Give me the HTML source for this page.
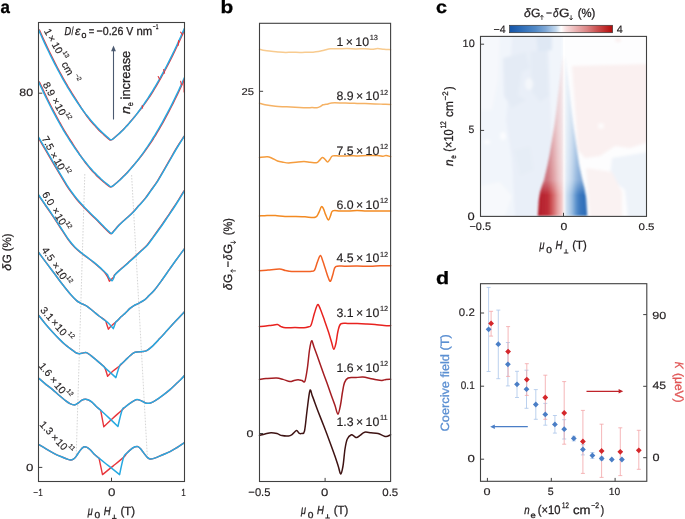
<!DOCTYPE html><html><head><meta charset="utf-8"><style>html,body{margin:0;padding:0;background:#fff;width:685px;height:519px;overflow:hidden}svg text{font-family:"Liberation Sans",sans-serif}</style></head><body><svg width="685" height="519" viewBox="0 0 685 519" style="position:absolute;left:0;top:0;will-change:transform" text-rendering="geometricPrecision" font-family='"Liberation Sans", sans-serif'>
<rect width="685" height="519" fill="#fff"/>
<defs><clipPath id="aclip"><rect x="38.5" y="22.5" width="146" height="459"/></clipPath></defs><g clip-path="url(#aclip)">
<g stroke="#b8b8b8" stroke-width="0.6" stroke-dasharray="1.6,1.4" fill="none"><path d="M84.8,174 L76.2,456"/><path d="M131.6,175 L147.4,458"/></g>
<path d="M39.2,29.5C39.53,30.25 40.53,32.53 41.2,34.02C41.87,35.52 42.53,37 43.2,38.46C43.87,39.93 44.53,41.38 45.2,42.82C45.87,44.26 46.53,45.68 47.2,47.09C47.87,48.51 48.53,49.9 49.2,51.28C49.87,52.67 50.53,54.04 51.2,55.39C51.87,56.75 52.53,58.09 53.2,59.41C53.87,60.74 54.53,62.05 55.2,63.35C55.87,64.65 56.53,65.94 57.2,67.21C57.87,68.48 58.53,69.73 59.2,70.98C59.87,72.22 60.53,73.45 61.2,74.67C61.87,75.88 62.53,77.08 63.2,78.27C63.87,79.46 64.53,80.63 65.2,81.79C65.87,82.95 66.53,84.1 67.2,85.23C67.87,86.36 68.53,87.48 69.2,88.58C69.87,89.69 70.54,90.77 71.2,91.85C71.86,92.93 72.53,93.99 73.19,95.04C73.84,96.09 74.49,97.13 75.13,98.16C75.77,99.18 76.4,100.2 77.03,101.2C77.66,102.2 78.28,103.19 78.9,104.17C79.52,105.15 80.13,106.11 80.75,107.06C81.36,108.01 81.97,108.95 82.58,109.87C83.2,110.79 83.81,111.7 84.42,112.59C85.04,113.49 85.65,114.37 86.27,115.23C86.89,116.09 87.52,116.94 88.15,117.78C88.78,118.61 89.41,119.43 90.05,120.24C90.7,121.04 91.35,121.83 92,122.6C92.66,123.37 93.33,124.12 94,124.87C94.67,125.61 95.33,126.33 96,127.05C96.67,127.76 97.33,128.46 98,129.15C98.67,129.83 99.33,130.5 100,131.16C100.67,131.82 101.33,132.46 102,133.09C102.67,133.72 103.33,134.34 104,134.94C104.67,135.54 105.33,136.13 106,136.71C106.67,137.28 107.33,137.84 108,138.39C108.67,138.93 109.33,139.77 110,139.98C110.67,140.2 111.33,139.99 112,139.67C112.67,139.34 113.33,138.6 114,138.04C114.67,137.49 115.33,136.92 116,136.34C116.67,135.76 117.33,135.16 118,134.55C118.67,133.94 119.33,133.32 120,132.68C120.67,132.04 121.33,131.39 122,130.72C122.67,130.05 123.33,129.37 124,128.68C124.67,127.99 125.33,127.28 126,126.56C126.67,125.84 127.33,125.1 128,124.35C128.67,123.6 129.33,122.84 130.01,122.06C130.69,121.28 131.38,120.48 132.07,119.67C132.76,118.85 133.46,118.03 134.17,117.18C134.87,116.34 135.59,115.48 136.3,114.61C137.02,113.74 137.73,112.85 138.45,111.95C139.17,111.04 139.9,110.13 140.62,109.2C141.34,108.27 142.06,107.32 142.78,106.36C143.5,105.41 144.21,104.43 144.93,103.45C145.64,102.47 146.35,101.47 147.05,100.46C147.76,99.45 148.46,98.43 149.15,97.39C149.84,96.36 150.52,95.31 151.2,94.25C151.87,93.19 152.53,92.12 153.2,91.04C153.87,89.96 154.53,88.86 155.2,87.75C155.87,86.63 156.53,85.51 157.2,84.37C157.87,83.23 158.53,82.07 159.2,80.91C159.87,79.74 160.53,78.56 161.2,77.36C161.87,76.17 162.53,74.96 163.2,73.73C163.87,72.51 164.53,71.27 165.2,70.02C165.87,68.77 166.53,67.5 167.2,66.23C167.87,64.95 168.53,63.65 169.2,62.35C169.87,61.04 170.53,59.72 171.2,58.38C171.87,57.05 172.53,55.7 173.2,54.34C173.87,52.97 174.53,51.6 175.2,50.21C175.87,48.81 176.53,47.41 177.2,45.99C177.87,44.57 178.53,43.14 179.2,41.69C179.87,40.25 180.53,38.79 181.2,37.31C181.87,35.84 182.53,34.35 183.2,32.85C183.87,31.35 184.87,29.06 185.2,28.3" stroke="#e8363c" stroke-width="1.4" fill="none" stroke-linejoin="round"/>
<path d="M38.5,29.5C38.83,30.25 39.83,32.53 40.5,34.02C41.17,35.52 41.83,37 42.5,38.46C43.17,39.93 43.83,41.38 44.5,42.82C45.17,44.26 45.83,45.68 46.5,47.09C47.17,48.51 47.83,49.9 48.5,51.28C49.17,52.67 49.83,54.04 50.5,55.39C51.17,56.75 51.83,58.09 52.5,59.41C53.17,60.74 53.83,62.05 54.5,63.35C55.17,64.65 55.83,65.94 56.5,67.21C57.17,68.48 57.83,69.73 58.5,70.98C59.17,72.22 59.83,73.45 60.5,74.67C61.17,75.88 61.83,77.08 62.5,78.27C63.17,79.46 63.83,80.63 64.5,81.79C65.17,82.95 65.83,84.1 66.5,85.23C67.17,86.36 67.83,87.48 68.5,88.58C69.17,89.69 69.83,90.77 70.5,91.85C71.17,92.93 71.83,93.99 72.5,95.04C73.17,96.09 73.83,97.12 74.5,98.14C75.17,99.16 75.83,100.17 76.5,101.16C77.17,102.15 77.83,103.13 78.5,104.09C79.17,105.06 79.83,106.01 80.5,106.95C81.17,107.88 81.83,108.8 82.5,109.71C83.17,110.62 83.83,111.52 84.5,112.4C85.17,113.28 85.83,114.15 86.5,115C87.17,115.85 87.83,116.69 88.5,117.52C89.17,118.34 89.83,119.15 90.5,119.95C91.17,120.75 91.83,121.53 92.5,122.3C93.17,123.07 93.83,123.82 94.5,124.57C95.17,125.31 95.83,126.03 96.5,126.75C97.17,127.46 97.83,128.16 98.5,128.85C99.17,129.53 99.83,130.2 100.5,130.86C101.17,131.52 101.83,132.16 102.5,132.79C103.17,133.42 103.83,134.04 104.5,134.64C105.17,135.24 105.83,135.83 106.5,136.41C107.17,136.98 107.83,137.54 108.5,138.09C109.17,138.63 109.83,139.47 110.5,139.68C111.17,139.9 111.83,139.69 112.5,139.37C113.17,139.04 113.83,138.3 114.5,137.74C115.17,137.19 115.83,136.62 116.5,136.04C117.17,135.46 117.83,134.86 118.5,134.25C119.17,133.64 119.83,133.02 120.5,132.38C121.17,131.74 121.83,131.09 122.5,130.42C123.17,129.75 123.83,129.07 124.5,128.38C125.17,127.69 125.83,126.98 126.5,126.26C127.17,125.54 127.83,124.8 128.5,124.05C129.17,123.3 129.83,122.54 130.5,121.76C131.17,120.98 131.83,120.19 132.5,119.38C133.17,118.58 133.83,117.76 134.5,116.93C135.17,116.09 135.83,115.25 136.5,114.38C137.17,113.52 137.83,112.65 138.5,111.76C139.17,110.87 139.83,109.97 140.5,109.05C141.17,108.13 141.83,107.2 142.5,106.26C143.17,105.31 143.83,104.35 144.5,103.38C145.17,102.41 145.83,101.42 146.5,100.42C147.17,99.42 147.83,98.41 148.5,97.38C149.17,96.35 149.83,95.31 150.5,94.25C151.17,93.19 151.83,92.12 152.5,91.04C153.17,89.96 153.83,88.86 154.5,87.75C155.17,86.63 155.83,85.51 156.5,84.37C157.17,83.23 157.83,82.07 158.5,80.91C159.17,79.74 159.83,78.56 160.5,77.36C161.17,76.17 161.83,74.96 162.5,73.73C163.17,72.51 163.83,71.27 164.5,70.02C165.17,68.77 165.83,67.5 166.5,66.23C167.17,64.95 167.83,63.65 168.5,62.35C169.17,61.04 169.83,59.72 170.5,58.38C171.17,57.05 171.83,55.7 172.5,54.34C173.17,52.97 173.83,51.6 174.5,50.21C175.17,48.81 175.83,47.41 176.5,45.99C177.17,44.57 177.83,43.14 178.5,41.69C179.17,40.25 179.83,38.79 180.5,37.31C181.17,35.84 181.83,34.35 182.5,32.85C183.17,31.35 184.17,29.06 184.5,28.3" stroke="#27a9e1" stroke-width="1.5" fill="none" stroke-linejoin="round"/>
<path d="M39.2,81.5C39.53,82.23 40.53,84.43 41.2,85.87C41.87,87.32 42.53,88.75 43.2,90.16C43.87,91.58 44.53,92.98 45.2,94.37C45.87,95.76 46.53,97.13 47.2,98.49C47.87,99.85 48.53,101.2 49.2,102.53C49.87,103.87 50.53,105.18 51.2,106.49C51.87,107.8 52.53,109.09 53.2,110.36C53.87,111.64 54.53,112.91 55.2,114.16C55.87,115.41 56.53,116.64 57.2,117.86C57.87,119.09 58.53,120.3 59.2,121.49C59.87,122.68 60.53,123.87 61.2,125.03C61.87,126.2 62.53,127.35 63.2,128.49C63.87,129.63 64.53,130.76 65.2,131.87C65.87,132.98 66.53,134.08 67.2,135.16C67.87,136.25 68.53,137.32 69.2,138.37C69.87,139.43 70.54,140.47 71.2,141.5C71.86,142.53 72.53,143.55 73.19,144.55C73.84,145.55 74.49,146.55 75.13,147.53C75.77,148.51 76.4,149.47 77.03,150.43C77.66,151.39 78.28,152.33 78.9,153.26C79.52,154.19 80.13,155.11 80.75,156.01C81.36,156.91 81.97,157.8 82.58,158.68C83.2,159.56 83.81,160.42 84.42,161.27C85.04,162.12 85.65,162.95 86.27,163.77C86.89,164.59 87.52,165.39 88.15,166.18C88.78,166.97 89.41,167.75 90.05,168.5C90.7,169.26 91.35,170 92,170.73C92.66,171.46 93.33,172.17 94,172.86C94.67,173.56 95.33,174.24 96,174.91C96.67,175.58 97.33,176.24 98,176.88C98.67,177.52 99.33,178.15 100,178.76C100.67,179.38 101.33,179.98 102,180.56C102.67,181.15 103.33,181.72 104,182.28C104.67,182.84 105.33,183.38 106,183.92C106.67,184.45 107.33,184.96 108,185.47C108.67,185.97 109.33,186.75 110,186.94C110.67,187.12 111.33,186.91 112,186.59C112.67,186.26 113.33,185.54 114,185C114.67,184.46 115.33,183.9 116,183.33C116.67,182.76 117.33,182.18 118,181.58C118.67,180.98 119.33,180.37 120,179.75C120.67,179.12 121.33,178.48 122,177.83C122.67,177.18 123.33,176.52 124,175.84C124.67,175.16 125.33,174.46 126,173.76C126.67,173.05 127.33,172.33 128,171.6C128.67,170.86 129.33,170.12 130.01,169.35C130.69,168.59 131.38,167.81 132.07,167.02C132.76,166.22 133.46,165.41 134.17,164.58C134.87,163.76 135.59,162.92 136.3,162.06C137.02,161.21 137.73,160.34 138.45,159.46C139.17,158.57 139.9,157.68 140.62,156.77C141.34,155.85 142.06,154.93 142.78,153.99C143.5,153.06 144.21,152.1 144.93,151.14C145.64,150.18 146.35,149.2 147.05,148.21C147.76,147.22 148.46,146.22 149.15,145.21C149.84,144.2 150.52,143.17 151.2,142.14C151.87,141.1 152.53,140.06 153.2,139C153.87,137.94 154.53,136.86 155.2,135.77C155.87,134.68 156.53,133.58 157.2,132.47C157.87,131.35 158.53,130.22 159.2,129.08C159.87,127.94 160.53,126.78 161.2,125.61C161.87,124.44 162.53,123.26 163.2,122.06C163.87,120.86 164.53,119.65 165.2,118.43C165.87,117.2 166.53,115.96 167.2,114.71C167.87,113.46 168.53,112.2 169.2,110.92C169.87,109.64 170.53,108.34 171.2,107.04C171.87,105.73 172.53,104.41 173.2,103.08C173.87,101.74 174.53,100.4 175.2,99.04C175.87,97.68 176.53,96.3 177.2,94.91C177.87,93.52 178.53,92.12 179.2,90.71C179.87,89.29 180.53,87.86 181.2,86.42C181.87,84.98 182.53,83.52 183.2,82.05C183.87,80.58 184.87,78.34 185.2,77.6" stroke="#e8363c" stroke-width="1.4" fill="none" stroke-linejoin="round"/>
<path d="M38.5,81.5C38.83,82.23 39.83,84.43 40.5,85.87C41.17,87.32 41.83,88.75 42.5,90.16C43.17,91.58 43.83,92.98 44.5,94.37C45.17,95.76 45.83,97.13 46.5,98.49C47.17,99.85 47.83,101.2 48.5,102.53C49.17,103.87 49.83,105.18 50.5,106.49C51.17,107.8 51.83,109.09 52.5,110.36C53.17,111.64 53.83,112.91 54.5,114.16C55.17,115.41 55.83,116.64 56.5,117.86C57.17,119.09 57.83,120.3 58.5,121.49C59.17,122.68 59.83,123.87 60.5,125.03C61.17,126.2 61.83,127.35 62.5,128.49C63.17,129.63 63.83,130.76 64.5,131.87C65.17,132.98 65.83,134.08 66.5,135.16C67.17,136.25 67.83,137.32 68.5,138.37C69.17,139.43 69.83,140.47 70.5,141.5C71.17,142.53 71.83,143.55 72.5,144.55C73.17,145.55 73.83,146.54 74.5,147.51C75.17,148.48 75.83,149.44 76.5,150.39C77.17,151.33 77.83,152.27 78.5,153.18C79.17,154.1 79.83,155.01 80.5,155.9C81.17,156.79 81.83,157.66 82.5,158.53C83.17,159.39 83.83,160.24 84.5,161.07C85.17,161.91 85.83,162.73 86.5,163.54C87.17,164.35 87.83,165.14 88.5,165.92C89.17,166.7 89.83,167.46 90.5,168.22C91.17,168.97 91.83,169.71 92.5,170.43C93.17,171.16 93.83,171.87 94.5,172.56C95.17,173.26 95.83,173.94 96.5,174.61C97.17,175.28 97.83,175.94 98.5,176.58C99.17,177.22 99.83,177.85 100.5,178.46C101.17,179.08 101.83,179.68 102.5,180.26C103.17,180.85 103.83,181.42 104.5,181.98C105.17,182.54 105.83,183.08 106.5,183.62C107.17,184.15 107.83,184.66 108.5,185.17C109.17,185.67 109.83,186.45 110.5,186.64C111.17,186.82 111.83,186.61 112.5,186.29C113.17,185.96 113.83,185.24 114.5,184.7C115.17,184.16 115.83,183.6 116.5,183.03C117.17,182.46 117.83,181.88 118.5,181.28C119.17,180.68 119.83,180.07 120.5,179.45C121.17,178.82 121.83,178.18 122.5,177.53C123.17,176.88 123.83,176.22 124.5,175.54C125.17,174.86 125.83,174.16 126.5,173.46C127.17,172.75 127.83,172.03 128.5,171.3C129.17,170.56 129.83,169.82 130.5,169.06C131.17,168.3 131.83,167.52 132.5,166.73C133.17,165.94 133.83,165.14 134.5,164.33C135.17,163.51 135.83,162.68 136.5,161.84C137.17,161 137.83,160.14 138.5,159.27C139.17,158.4 139.83,157.52 140.5,156.62C141.17,155.72 141.83,154.81 142.5,153.89C143.17,152.96 143.83,152.02 144.5,151.07C145.17,150.12 145.83,149.16 146.5,148.18C147.17,147.2 147.83,146.2 148.5,145.2C149.17,144.19 149.83,143.17 150.5,142.14C151.17,141.1 151.83,140.06 152.5,139C153.17,137.94 153.83,136.86 154.5,135.77C155.17,134.68 155.83,133.58 156.5,132.47C157.17,131.35 157.83,130.22 158.5,129.08C159.17,127.94 159.83,126.78 160.5,125.61C161.17,124.44 161.83,123.26 162.5,122.06C163.17,120.86 163.83,119.65 164.5,118.43C165.17,117.2 165.83,115.96 166.5,114.71C167.17,113.46 167.83,112.2 168.5,110.92C169.17,109.64 169.83,108.34 170.5,107.04C171.17,105.73 171.83,104.41 172.5,103.08C173.17,101.74 173.83,100.4 174.5,99.04C175.17,97.68 175.83,96.3 176.5,94.91C177.17,93.52 177.83,92.12 178.5,90.71C179.17,89.29 179.83,87.86 180.5,86.42C181.17,84.98 181.83,83.52 182.5,82.05C183.17,80.58 184.17,78.34 184.5,77.6" stroke="#27a9e1" stroke-width="1.5" fill="none" stroke-linejoin="round"/>
<path d="M38.05,137.3C39.13,139.15 42.3,144.57 44.55,148.4C46.8,152.23 49.22,156.33 51.55,160.3C53.88,164.27 56.12,168.12 58.55,172.2C60.98,176.28 63.98,181.38 66.15,184.8C68.32,188.22 69.82,190.3 71.55,192.7C73.28,195.1 74.7,196.98 76.55,199.2C78.4,201.42 80.82,204.03 82.65,206C84.48,207.97 85.73,209.17 87.55,211C89.37,212.83 91.67,215.13 93.55,217C95.43,218.87 97.18,220.53 98.85,222.2C100.52,223.87 101.98,225.43 103.55,227C105.12,228.57 106.98,230.48 108.25,231.6C109.52,232.72 110.3,233.73 111.15,233.7C112,233.67 112.45,232.38 113.35,231.4C114.25,230.42 115.52,228.97 116.55,227.8C117.58,226.63 118.05,225.87 119.55,224.4C121.05,222.93 123.37,220.98 125.55,219C127.73,217.02 130.48,214.7 132.65,212.5C134.82,210.3 136.5,208.12 138.55,205.8C140.6,203.48 142.95,201.1 144.95,198.6C146.95,196.1 148.5,193.68 150.55,190.8C152.6,187.92 155.08,184.67 157.25,181.3C159.42,177.93 161.5,174.12 163.55,170.6C165.6,167.08 167.6,163.6 169.55,160.2C171.5,156.8 173.58,153.03 175.25,150.2C176.92,147.37 178.08,145.53 179.55,143.2C181.02,140.87 183.3,137.37 184.05,136.2" stroke="#e8363c" stroke-width="1.4" fill="none" stroke-linejoin="round"/>
<path d="M38.5,137.1C39.58,138.95 42.75,144.37 45,148.2C47.25,152.03 49.67,156.13 52,160.1C54.33,164.07 56.57,167.92 59,172C61.43,176.08 64.43,181.18 66.6,184.6C68.77,188.02 70.27,190.1 72,192.5C73.73,194.9 75.15,196.78 77,199C78.85,201.22 81.27,203.83 83.1,205.8C84.93,207.77 86.18,208.97 88,210.8C89.82,212.63 92.12,214.93 94,216.8C95.88,218.67 97.63,220.33 99.3,222C100.97,223.67 102.43,225.23 104,226.8C105.57,228.37 107.43,230.28 108.7,231.4C109.97,232.52 110.75,233.53 111.6,233.5C112.45,233.47 112.9,232.18 113.8,231.2C114.7,230.22 115.97,228.77 117,227.6C118.03,226.43 118.5,225.67 120,224.2C121.5,222.73 123.82,220.78 126,218.8C128.18,216.82 130.93,214.5 133.1,212.3C135.27,210.1 136.95,207.92 139,205.6C141.05,203.28 143.4,200.9 145.4,198.4C147.4,195.9 148.95,193.48 151,190.6C153.05,187.72 155.53,184.47 157.7,181.1C159.87,177.73 161.95,173.92 164,170.4C166.05,166.88 168.05,163.4 170,160C171.95,156.6 174.03,152.83 175.7,150C177.37,147.17 178.53,145.33 180,143C181.47,140.67 183.75,137.17 184.5,136" stroke="#27a9e1" stroke-width="1.5" fill="none" stroke-linejoin="round"/>
<path d="M38.1,194.8C39.18,196.37 42.35,200.95 44.6,204.2C46.85,207.45 49.1,210.58 51.6,214.3C54.1,218.02 56.87,222.33 59.6,226.5C62.33,230.67 65.5,235.83 68,239.3C70.5,242.77 72.33,244.97 74.6,247.3C76.87,249.63 79.43,251.55 81.6,253.3C83.77,255.05 85.6,256.28 87.6,257.8C89.6,259.32 91.72,260.88 93.6,262.4C95.48,263.92 97.23,265.42 98.9,266.9C100.57,268.38 102.25,269.82 103.6,271.3C104.95,272.78 106.17,274.47 107,275.8C107.83,277.13 108.18,278.4 108.6,279.3C109.02,280.2 109.1,281.15 109.5,281.2C109.9,281.25 110.45,280.13 111,279.6C111.55,279.07 112.27,278.5 112.8,278C113.33,277.5 113.93,277.08 114.2,276.6C114.47,276.12 113.67,276.05 114.4,275.1C115.13,274.15 116.9,272.45 118.6,270.9C120.3,269.35 122.77,267.4 124.6,265.8C126.43,264.2 127.72,263 129.6,261.3C131.48,259.6 133.9,257.43 135.9,255.6C137.9,253.77 139.72,252.08 141.6,250.3C143.48,248.52 145.2,247.23 147.2,244.9C149.2,242.57 151.28,239.45 153.6,236.3C155.92,233.15 158.77,229.32 161.1,226C163.43,222.68 165.52,219.48 167.6,216.4C169.68,213.32 171.8,210.23 173.6,207.5C175.4,204.77 176.65,202.8 178.4,200C180.15,197.2 183.15,192.25 184.1,190.7" stroke="#e8363c" stroke-width="1.4" fill="none" stroke-linejoin="round"/>
<path d="M38.5,194.8C39.58,196.37 42.75,200.95 45,204.2C47.25,207.45 49.5,210.58 52,214.3C54.5,218.02 57.27,222.33 60,226.5C62.73,230.67 65.9,235.83 68.4,239.3C70.9,242.77 72.73,244.97 75,247.3C77.27,249.63 79.83,251.55 82,253.3C84.17,255.05 86,256.28 88,257.8C90,259.32 92.12,260.88 94,262.4C95.88,263.92 97.63,265.42 99.3,266.9C100.97,268.38 102.67,270.03 104,271.3C105.33,272.57 106.52,273.48 107.3,274.5C108.08,275.52 108.17,276.55 108.7,277.4C109.23,278.25 109.93,279.03 110.5,279.6C111.07,280.17 111.62,280.97 112.1,280.8C112.58,280.63 112.95,279.55 113.4,278.6C113.85,277.65 113.87,276.38 114.8,275.1C115.73,273.82 117.3,272.45 119,270.9C120.7,269.35 123.17,267.4 125,265.8C126.83,264.2 128.12,263 130,261.3C131.88,259.6 134.3,257.43 136.3,255.6C138.3,253.77 140.12,252.08 142,250.3C143.88,248.52 145.6,247.23 147.6,244.9C149.6,242.57 151.68,239.45 154,236.3C156.32,233.15 159.17,229.32 161.5,226C163.83,222.68 165.92,219.48 168,216.4C170.08,213.32 172.2,210.23 174,207.5C175.8,204.77 177.05,202.8 178.8,200C180.55,197.2 183.55,192.25 184.5,190.7" stroke="#27a9e1" stroke-width="1.5" fill="none" stroke-linejoin="round"/>
<path d="M178.6,40.5 L178.3,45.2 M180.6,32.2 L182.6,34.6 M163.6,69.6 L164.6,73.2 M158.2,76.6 L159.6,79.2 M142.2,105.6 L142.6,108.2 M183.9,80 L184.1,92 M180.6,81.2 L181.4,84.6" stroke="#e8363c" stroke-width="1.1" fill="none" stroke-linecap="round"/>
<path d="M38.5,252.3C39.75,253.98 43.42,258.95 46,262.4C48.58,265.85 51.33,269.43 54,273C56.67,276.57 59.22,280.2 62,283.8C64.78,287.4 68.27,291.8 70.7,294.6C73.13,297.4 74.88,299.15 76.6,300.6C78.32,302.05 79.37,302.42 81,303.3C82.63,304.18 84.4,304.62 86.4,305.9C88.4,307.18 90.9,309.32 93,311C95.1,312.68 96.97,314.42 99,316C101.03,317.58 103.93,319.17 105.2,320.5C106.47,321.83 106.07,322.55 106.6,324C107.13,325.45 108.4,329.2 108.4,329.2C108.4,329.2 108.77,328.4 110,327.2C111.23,326 114.55,323.12 115.8,322C117.05,320.88 116.63,321.37 117.5,320.5C118.37,319.63 119.75,317.98 121,316.8C122.25,315.62 123.5,314.8 125,313.4C126.5,312 128.5,309.7 130,308.4C131.5,307.1 132.67,306.4 134,305.6C135.33,304.8 136.32,304.5 138,303.6C139.68,302.7 142.27,301.53 144.1,300.2C145.93,298.87 147.27,297.3 149,295.6C150.73,293.9 152.33,292.6 154.5,290C156.67,287.4 159.42,283.57 162,280C164.58,276.43 167.5,272.13 170,268.6C172.5,265.07 174.58,262.13 177,258.8C179.42,255.47 183.25,250.3 184.5,248.6" stroke="#e8363c" stroke-width="1.4" fill="none" stroke-linejoin="round"/>
<path d="M38.5,252.3C39.75,253.98 43.42,258.95 46,262.4C48.58,265.85 51.33,269.43 54,273C56.67,276.57 59.22,280.2 62,283.8C64.78,287.4 68.27,291.8 70.7,294.6C73.13,297.4 74.88,299.15 76.6,300.6C78.32,302.05 79.37,302.42 81,303.3C82.63,304.18 84.4,304.62 86.4,305.9C88.4,307.18 90.9,309.32 93,311C95.1,312.68 96.97,314.42 99,316C101.03,317.58 103.57,319.25 105.2,320.5C106.83,321.75 107.45,322.15 108.8,323.5C110.15,324.85 113.3,328.6 113.3,328.6C113.3,328.6 114.18,326.3 114.6,325.2C115.02,324.1 115.32,322.78 115.8,322C116.28,321.22 116.63,321.37 117.5,320.5C118.37,319.63 119.75,317.98 121,316.8C122.25,315.62 123.5,314.8 125,313.4C126.5,312 128.5,309.7 130,308.4C131.5,307.1 132.67,306.4 134,305.6C135.33,304.8 136.32,304.5 138,303.6C139.68,302.7 142.27,301.53 144.1,300.2C145.93,298.87 147.27,297.3 149,295.6C150.73,293.9 152.33,292.6 154.5,290C156.67,287.4 159.42,283.57 162,280C164.58,276.43 167.5,272.13 170,268.6C172.5,265.07 174.58,262.13 177,258.8C179.42,255.47 183.25,250.3 184.5,248.6" stroke="#27a9e1" stroke-width="1.5" fill="none" stroke-linejoin="round"/>
<path d="M38.5,315.2C39.58,316.57 42.75,320.7 45,323.4C47.25,326.1 49.65,328.82 52,331.4C54.35,333.98 56.93,336.72 59.1,338.9C61.27,341.08 63.18,342.92 65,344.5C66.82,346.08 68.28,347.1 70,348.4C71.72,349.7 73.88,351.43 75.3,352.3C76.72,353.17 77.38,353.45 78.5,353.6C79.62,353.75 80.68,353.37 82,353.2C83.32,353.03 84.9,352.2 86.4,352.6C87.9,353 89.23,354.27 91,355.6C92.77,356.93 95.03,358.93 97,360.6C98.97,362.27 101.5,364.43 102.8,365.6C104.1,366.77 104,365.82 104.8,367.6C105.6,369.38 107.6,376.3 107.6,376.3C107.6,376.3 111,372.72 113,371C115,369.28 118.02,367.33 119.6,366C121.18,364.67 121.43,364.07 122.5,363C123.57,361.93 124.75,360.8 126,359.6C127.25,358.4 128.72,356.93 130,355.8C131.28,354.67 132.37,353.45 133.7,352.8C135.03,352.15 136.55,352.1 138,351.9C139.45,351.7 140.95,351.82 142.4,351.6C143.85,351.38 145.1,351.43 146.7,350.6C148.3,349.77 149.83,348.6 152,346.6C154.17,344.6 157.2,341.27 159.7,338.6C162.2,335.93 164.45,333.4 167,330.6C169.55,327.8 172.08,324.95 175,321.8C177.92,318.65 182.92,313.38 184.5,311.7" stroke="#e8363c" stroke-width="1.4" fill="none" stroke-linejoin="round"/>
<path d="M38.5,315.2C39.58,316.57 42.75,320.7 45,323.4C47.25,326.1 49.65,328.82 52,331.4C54.35,333.98 56.93,336.72 59.1,338.9C61.27,341.08 63.18,342.92 65,344.5C66.82,346.08 68.28,347.1 70,348.4C71.72,349.7 73.88,351.43 75.3,352.3C76.72,353.17 77.38,353.45 78.5,353.6C79.62,353.75 80.68,353.37 82,353.2C83.32,353.03 84.9,352.2 86.4,352.6C87.9,353 89.23,354.27 91,355.6C92.77,356.93 95.03,358.93 97,360.6C98.97,362.27 101.5,364.43 102.8,365.6C104.1,366.77 103.68,366.57 104.8,367.6C105.92,368.63 107.65,370.13 109.5,371.8C111.35,373.47 115.9,377.6 115.9,377.6C115.9,377.6 118.5,368.43 119.6,366C120.7,363.57 121.43,364.07 122.5,363C123.57,361.93 124.75,360.8 126,359.6C127.25,358.4 128.72,356.93 130,355.8C131.28,354.67 132.37,353.45 133.7,352.8C135.03,352.15 136.55,352.1 138,351.9C139.45,351.7 140.95,351.82 142.4,351.6C143.85,351.38 145.1,351.43 146.7,350.6C148.3,349.77 149.83,348.6 152,346.6C154.17,344.6 157.2,341.27 159.7,338.6C162.2,335.93 164.45,333.4 167,330.6C169.55,327.8 172.08,324.95 175,321.8C177.92,318.65 182.92,313.38 184.5,311.7" stroke="#27a9e1" stroke-width="1.5" fill="none" stroke-linejoin="round"/>
<path d="M38.5,378C39.58,378.93 42.68,381.7 45,383.6C47.32,385.5 50.07,387.47 52.4,389.4C54.73,391.33 56.82,393.33 59,395.2C61.18,397.07 63.67,399.2 65.5,400.6C67.33,402 68.5,402.88 70,403.6C71.5,404.32 73.17,404.97 74.5,404.9C75.83,404.83 76.75,403.98 78,403.2C79.25,402.42 80.8,400.85 82,400.2C83.2,399.55 84.2,399.37 85.2,399.3C86.2,399.23 86.87,399.32 88,399.8C89.13,400.28 90.67,401.13 92,402.2C93.33,403.27 94.55,404.85 96,406.2C97.45,407.55 100.7,410.3 100.7,410.3C100.7,410.3 103.8,426.8 103.8,426.8C103.8,426.8 109.1,421.67 112,419C114.9,416.33 119.03,412.77 121.2,410.8C123.37,408.83 123.87,408.2 125,407.2C126.13,406.2 126.75,405.73 128,404.8C129.25,403.87 131.02,402.47 132.5,401.6C133.98,400.73 135.48,399.77 136.9,399.6C138.32,399.43 139.43,400 141,400.6C142.57,401.2 144.63,402.83 146.3,403.2C147.97,403.57 149.38,403.3 151,402.8C152.62,402.3 154,401.47 156,400.2C158,398.93 160.67,396.97 163,395.2C165.33,393.43 167.83,391.47 170,389.6C172.17,387.73 174.28,385.6 176,384C177.72,382.4 178.88,381.42 180.3,380C181.72,378.58 183.8,376.25 184.5,375.5" stroke="#e8363c" stroke-width="1.4" fill="none" stroke-linejoin="round"/>
<path d="M38.5,378C39.58,378.93 42.68,381.7 45,383.6C47.32,385.5 50.07,387.47 52.4,389.4C54.73,391.33 56.82,393.33 59,395.2C61.18,397.07 63.67,399.2 65.5,400.6C67.33,402 68.5,402.88 70,403.6C71.5,404.32 73.17,404.97 74.5,404.9C75.83,404.83 76.75,403.98 78,403.2C79.25,402.42 80.8,400.85 82,400.2C83.2,399.55 84.2,399.37 85.2,399.3C86.2,399.23 86.87,399.32 88,399.8C89.13,400.28 90.67,401.13 92,402.2C93.33,403.27 94.55,404.85 96,406.2C97.45,407.55 98.37,408.18 100.7,410.3C103.03,412.42 107.13,416.2 110,418.9C112.87,421.6 117.9,426.5 117.9,426.5C117.9,426.5 121.12,412.82 122.3,409.6C123.48,406.38 124.05,408 125,407.2C125.95,406.4 126.75,405.73 128,404.8C129.25,403.87 131.02,402.47 132.5,401.6C133.98,400.73 135.48,399.77 136.9,399.6C138.32,399.43 139.43,400 141,400.6C142.57,401.2 144.63,402.83 146.3,403.2C147.97,403.57 149.38,403.3 151,402.8C152.62,402.3 154,401.47 156,400.2C158,398.93 160.67,396.97 163,395.2C165.33,393.43 167.83,391.47 170,389.6C172.17,387.73 174.28,385.6 176,384C177.72,382.4 178.88,381.42 180.3,380C181.72,378.58 183.8,376.25 184.5,375.5" stroke="#27a9e1" stroke-width="1.5" fill="none" stroke-linejoin="round"/>
<path d="M38.5,444.4C39.75,445.13 43.28,447.23 46,448.8C48.72,450.37 52.13,452.43 54.8,453.8C57.47,455.17 59.8,456.07 62,457C64.2,457.93 66.55,458.9 68,459.4C69.45,459.9 69.87,460 70.7,460C71.53,460 72.12,459.97 73,459.4C73.88,458.83 74.83,458.07 76,456.6C77.17,455.13 78.72,452.2 80,450.6C81.28,449 82.53,447.53 83.7,447C84.87,446.47 85.87,446.9 87,447.4C88.13,447.9 89.33,448.9 90.5,450C91.67,451.1 92.58,452.63 94,454C95.42,455.37 99,458.2 99,458.2C99,458.2 102.5,474.6 102.5,474.6C102.5,474.6 109.48,469 113,466.1C116.52,463.2 121.27,459.38 123.6,457.2C125.93,455.02 125.63,454.43 127,453C128.37,451.57 130.47,449.63 131.8,448.6C133.13,447.57 133.97,447.13 135,446.8C136.03,446.47 137,446.2 138,446.6C139,447 139.87,447.9 141,449.2C142.13,450.5 143.72,453 144.8,454.4C145.88,455.8 146.63,456.83 147.5,457.6C148.37,458.37 148.92,458.87 150,459C151.08,459.13 152.5,458.83 154,458.4C155.5,457.97 157.22,457.13 159,456.4C160.78,455.67 162.87,454.8 164.7,454C166.53,453.2 168.12,452.57 170,451.6C171.88,450.63 173.58,449.7 176,448.2C178.42,446.7 183.08,443.53 184.5,442.6" stroke="#e8363c" stroke-width="1.4" fill="none" stroke-linejoin="round"/>
<path d="M38.5,444.4C39.75,445.13 43.28,447.23 46,448.8C48.72,450.37 52.13,452.43 54.8,453.8C57.47,455.17 59.8,456.07 62,457C64.2,457.93 66.55,458.9 68,459.4C69.45,459.9 69.87,460 70.7,460C71.53,460 72.12,459.97 73,459.4C73.88,458.83 74.83,458.07 76,456.6C77.17,455.13 78.72,452.2 80,450.6C81.28,449 82.53,447.53 83.7,447C84.87,446.47 85.87,446.9 87,447.4C88.13,447.9 89.33,448.9 90.5,450C91.67,451.1 92.58,452.63 94,454C95.42,455.37 96.5,456.17 99,458.2C101.5,460.23 105.57,463.47 109,466.2C112.43,468.93 119.6,474.6 119.6,474.6C119.6,474.6 122.37,460.8 123.6,457.2C124.83,453.6 125.63,454.43 127,453C128.37,451.57 130.47,449.63 131.8,448.6C133.13,447.57 133.97,447.13 135,446.8C136.03,446.47 137,446.2 138,446.6C139,447 139.87,447.9 141,449.2C142.13,450.5 143.72,453 144.8,454.4C145.88,455.8 146.63,456.83 147.5,457.6C148.37,458.37 148.92,458.87 150,459C151.08,459.13 152.5,458.83 154,458.4C155.5,457.97 157.22,457.13 159,456.4C160.78,455.67 162.87,454.8 164.7,454C166.53,453.2 168.12,452.57 170,451.6C171.88,450.63 173.58,449.7 176,448.2C178.42,446.7 183.08,443.53 184.5,442.6" stroke="#27a9e1" stroke-width="1.5" fill="none" stroke-linejoin="round"/>
</g>
<rect x="38.5" y="22.5" width="146.0" height="459.0" fill="none" stroke="#404040" stroke-width="1.1"/>
<path d="M38.5,93.2 h3.8 M38.5,467.4 h3.8 M111.5,481.5 v-3.8" stroke="#404040" stroke-width="1"/>
<path d="M113.5,119.5 V50" stroke="#4b5a70" stroke-width="1.1"/>
<path d="M111.1,51.2 L113.5,45.4 L115.9,51.2 Z" fill="#4b5a70"/>
<text x="19.38" y="96.38" font-size="10.54" fill="#231f20" stroke="#231f20" stroke-width="0.16" textLength="13.68" lengthAdjust="spacingAndGlyphs">80</text>
<text x="25.90" y="470.68" font-size="10.40" fill="#231f20" stroke="#231f20" stroke-width="0.16" textLength="7.40" lengthAdjust="spacingAndGlyphs">0</text>
<text x="33.37" y="495.88" font-size="10.26" fill="#231f20" stroke="#231f20" stroke-width="0.16" textLength="9.36" lengthAdjust="spacingAndGlyphs">−1</text>
<text x="107.90" y="496.17" font-size="11.10" fill="#231f20" stroke="#231f20" stroke-width="0.16" textLength="7.40" lengthAdjust="spacingAndGlyphs">0</text>
<text x="181.36" y="495.88" font-size="10.26" fill="#231f20" stroke="#231f20" stroke-width="0.16" textLength="4.56" lengthAdjust="spacingAndGlyphs">1</text>
<g fill="none" stroke-width="1.5" stroke-linejoin="round" stroke-linecap="round">
<path d="M259.5,49.3C260.42,49.52 263.03,50.27 265,50.6C266.97,50.93 269.13,51.07 271.3,51.3C273.47,51.53 275.6,51.8 278,52C280.4,52.2 283.37,52.47 285.7,52.5C288.03,52.53 289.62,52.2 292,52.2C294.38,52.2 297.33,52.5 300,52.5C302.67,52.5 305.83,52.25 308,52.2C310.17,52.15 311.27,52.3 313,52.2C314.73,52.1 316.57,51.93 318.4,51.6C320.23,51.27 321.97,50.68 324,50.2C326.03,49.72 328.27,48.93 330.6,48.7C332.93,48.47 335.27,48.82 338,48.8C340.73,48.78 344,48.58 347,48.6C350,48.62 353,48.87 356,48.9C359,48.93 362.33,48.75 365,48.8C367.67,48.85 369.9,49.23 372,49.2C374.1,49.17 375.6,48.58 377.6,48.6C379.6,48.62 381.83,49.12 384,49.3C386.17,49.48 389.5,49.63 390.6,49.7" stroke="#f8cb8f"/>
<path d="M259.5,103.1C260.42,103.38 262.35,104.27 265,104.8C267.65,105.33 272.07,105.97 275.4,106.3C278.73,106.63 281.73,106.65 285,106.8C288.27,106.95 291.48,107.03 295,107.2C298.52,107.37 303.27,107.73 306.1,107.8C308.93,107.87 310.18,107.62 312,107.6C313.82,107.58 315.6,107.88 317,107.7C318.4,107.52 319.4,106.98 320.4,106.5C321.4,106.02 322.07,105.17 323,104.8C323.93,104.43 325,104.5 326,104.3C327,104.1 328.07,103.83 329,103.6C329.93,103.37 329.77,103.02 331.6,102.9C333.43,102.78 336.93,102.83 340,102.9C343.07,102.97 347.13,103.22 350,103.3C352.87,103.38 354.7,103.35 357.2,103.4C359.7,103.45 362.03,103.52 365,103.6C367.97,103.68 372,103.8 375,103.9C378,104 380.4,104.1 383,104.2C385.6,104.3 389.33,104.45 390.6,104.5" stroke="#f5b265"/>
<path d="M259.5,157.4C260.8,157.28 265.22,156.57 267.3,156.7C269.38,156.83 270.3,157.48 272,158.2C273.7,158.92 275.67,160.33 277.5,161C279.33,161.67 281.13,161.88 283,162.2C284.87,162.52 286.53,162.9 288.7,162.9C290.87,162.9 293.45,162.42 296,162.2C298.55,161.98 301.67,161.6 304,161.6C306.33,161.6 307.95,162 310,162.2C312.05,162.4 314.72,163.1 316.3,162.8C317.88,162.5 318.48,161.3 319.5,160.4C320.52,159.5 321.48,157.57 322.4,157.4C323.32,157.23 324.13,158.65 325,159.4C325.87,160.15 326.77,161.93 327.6,161.9C328.43,161.87 329.15,160.2 330,159.2C330.85,158.2 331.03,156.43 332.7,155.9C334.37,155.37 337.12,156.02 340,156C342.88,155.98 347.13,155.82 350,155.8C352.87,155.78 354.37,155.93 357.2,155.9C360.03,155.87 363.6,155.67 367,155.6C370.4,155.53 374.93,155.4 377.6,155.5C380.27,155.6 381.6,156.18 383,156.2C384.4,156.22 384.73,155.53 386,155.6C387.27,155.67 389.83,156.43 390.6,156.6" stroke="#f59c3d"/>
<path d="M259.5,216C260.75,215.9 264.35,215.47 267,215.4C269.65,215.33 272.4,215.43 275.4,215.6C278.4,215.77 281.58,216.27 285,216.4C288.42,216.53 292.57,216.33 295.9,216.4C299.23,216.47 301.77,216.65 305,216.8C308.23,216.95 313.03,217.93 315.3,217.3C317.57,216.67 317.58,214.75 318.6,213C319.62,211.25 320.58,207.5 321.4,206.8C322.22,206.1 322.82,207.53 323.5,208.8C324.18,210.07 324.68,212.52 325.5,214.4C326.32,216.28 327.57,219.87 328.4,220.1C329.23,220.33 329.78,217.33 330.5,215.8C331.22,214.27 331.12,211.72 332.7,210.9C334.28,210.08 337.12,210.9 340,210.9C342.88,210.9 347.13,210.95 350,210.9C352.87,210.85 354.37,210.58 357.2,210.6C360.03,210.62 363.53,210.95 367,211C370.47,211.05 374.07,210.88 378,210.9C381.93,210.92 388.5,211.07 390.6,211.1" stroke="#f38a22"/>
<path d="M259.5,270.8C260.92,270.67 264.67,270.3 268,270C271.33,269.7 276.67,268.93 279.5,269C282.33,269.07 282.95,269.98 285,270.4C287.05,270.82 289.3,271.32 291.8,271.5C294.3,271.68 296.93,271.52 300,271.5C303.07,271.48 307.78,271.62 310.2,271.4C312.62,271.18 313.3,271.77 314.5,270.2C315.7,268.63 316.42,264.43 317.4,262C318.38,259.57 319.5,255.77 320.4,255.6C321.3,255.43 321.95,258.72 322.8,261C323.65,263.28 324.58,266.5 325.5,269.3C326.42,272.1 327.45,275.82 328.3,277.8C329.15,279.78 329.82,281.83 330.6,281.2C331.38,280.57 332.15,276.43 333,274C333.85,271.57 333.7,267.9 335.7,266.6C337.7,265.3 341.42,266.3 345,266.2C348.58,266.1 353.03,265.98 357.2,266C361.37,266.02 366.2,266.33 370,266.3C373.8,266.27 376.57,265.88 380,265.8C383.43,265.72 388.83,265.8 390.6,265.8" stroke="#f26224"/>
<path d="M259.5,326.6C260.58,326.5 263.92,326.23 266,326C268.08,325.77 270.08,325.43 272,325.2C273.92,324.97 276,324.37 277.5,324.6C279,324.83 279.63,326.07 281,326.6C282.37,327.13 283.37,327.63 285.7,327.8C288.03,327.97 291.95,327.6 295,327.6C298.05,327.6 301.83,327.9 304,327.8C306.17,327.7 306.83,327.43 308,327C309.17,326.57 309.92,327.53 311,325.2C312.08,322.87 313.38,316.42 314.5,313C315.62,309.58 316.7,305.28 317.7,304.7C318.7,304.12 319.37,306.88 320.5,309.5C321.63,312.12 323.17,316.65 324.5,320.4C325.83,324.15 327.33,328.4 328.5,332C329.67,335.6 330.62,339.13 331.5,342C332.38,344.87 333.05,349.03 333.8,349.2C334.55,349.37 335.3,346.03 336,343C336.7,339.97 337.2,334.18 338,331C338.8,327.82 339.13,325.17 340.8,323.9C342.47,322.63 345.27,323.45 348,323.4C350.73,323.35 354.2,323.5 357.2,323.6C360.2,323.7 363.03,323.83 366,324C368.97,324.17 372,324.33 375,324.6C378,324.87 381.4,325.43 384,325.6C386.6,325.77 389.5,325.6 390.6,325.6" stroke="#e8221f"/>
<path d="M259.5,379.4C260.58,379.27 263.15,378.83 266,378.6C268.85,378.37 273.77,377.87 276.6,378C279.43,378.13 280.77,378.8 283,379.4C285.23,380 288.17,381.43 290,381.6C291.83,381.77 292.63,380.7 294,380.4C295.37,380.1 296.87,379.77 298.2,379.8C299.53,379.83 300.88,380.37 302,380.6C303.12,380.83 304,383.3 304.9,381.2C305.8,379.1 306.63,373.2 307.4,368C308.17,362.8 308.8,354.53 309.5,350C310.2,345.47 310.85,341.3 311.6,340.8C312.35,340.3 312.93,344.13 314,347C315.07,349.87 316.6,354.08 318,358C319.4,361.92 320.9,366.33 322.4,370.5C323.9,374.67 325.57,379 327,383C328.43,387 329.67,390.75 331,394.5C332.33,398.25 333.85,402.22 335,405.5C336.15,408.78 336.98,414.28 337.9,414.2C338.82,414.12 339.73,408.7 340.5,405C341.27,401.3 341.83,395.73 342.5,392C343.17,388.27 343.57,384.93 344.5,382.6C345.43,380.27 346.35,378.83 348.1,378C349.85,377.17 352.53,377.75 355,377.6C357.47,377.45 360.4,376.97 362.9,377.1C365.4,377.23 367.75,377.95 370,378.4C372.25,378.85 374.4,379.47 376.4,379.8C378.4,380.13 380.4,380.47 382,380.4C383.6,380.33 384.57,379.6 386,379.4C387.43,379.2 389.83,379.23 390.6,379.2" stroke="#a41d22"/>
<path d="M259.5,435.4C260.42,435.17 263.07,434.45 265,434C266.93,433.55 269.1,432.77 271.1,432.7C273.1,432.63 275.18,433.12 277,433.6C278.82,434.08 280.08,435.2 282,435.6C283.92,436 286.83,436.17 288.5,436C290.17,435.83 290.67,435.5 292,434.6C293.33,433.7 295.33,430.83 296.5,430.6C297.67,430.37 298.12,432.73 299,433.2C299.88,433.67 300.88,433.77 301.8,433.4C302.72,433.03 303.63,434.73 304.5,431C305.37,427.27 306.1,417.72 307,411C307.9,404.28 308.98,393.13 309.9,390.7C310.82,388.27 311.15,392.98 312.5,396.4C313.85,399.82 315.98,405.93 318,411.2C320.02,416.47 322.6,422.8 324.6,428C326.6,433.2 328.27,437.7 330,442.4C331.73,447.1 333.58,452.1 335,456.2C336.42,460.3 337.55,464.03 338.5,467C339.45,469.97 339.95,474.17 340.7,474C341.45,473.83 342.28,470.17 343,466C343.72,461.83 344.28,453.5 345,449C345.72,444.5 346.23,441.37 347.3,439C348.37,436.63 350.28,435.27 351.4,434.8C352.52,434.33 353.12,435.73 354,436.2C354.88,436.67 355.7,437.73 356.7,437.6C357.7,437.47 358.67,436.3 360,435.4C361.33,434.5 362.87,432.63 364.7,432.2C366.53,431.77 368.77,432.57 371,432.8C373.23,433.03 376.1,433.13 378.1,433.6C380.1,434.07 381.65,435.1 383,435.6C384.35,436.1 384.93,436.73 386.2,436.6C387.47,436.47 389.87,435.1 390.6,434.8" stroke="#3e1313"/>
</g>
<rect x="259.5" y="23.3" width="131.10000000000002" height="458.2" fill="none" stroke="#404040" stroke-width="1.1"/>
<path d="M259.5,91.3 h3.6 M259.5,433.5 h3.6 M325.1,481.5 v-3.6" stroke="#404040" stroke-width="1"/>
<text x="241.55" y="94.68" font-size="9.83" fill="#231f20" stroke="#231f20" stroke-width="0.16" textLength="12.50" lengthAdjust="spacingAndGlyphs">25</text>
<text x="246.43" y="436.59" font-size="9.69" fill="#231f20" stroke="#231f20" stroke-width="0.16" textLength="6.94" lengthAdjust="spacingAndGlyphs">0</text>
<text x="248.37" y="496.07" font-size="11.24" fill="#231f20" stroke="#231f20" stroke-width="0.16" textLength="22.08" lengthAdjust="spacingAndGlyphs">−0.5</text>
<text x="321.11" y="496.18" font-size="10.68" fill="#231f20" stroke="#231f20" stroke-width="0.16" textLength="7.28" lengthAdjust="spacingAndGlyphs">0</text>
<text x="382.27" y="496.18" font-size="10.68" fill="#231f20" stroke="#231f20" stroke-width="0.16" textLength="15.99" lengthAdjust="spacingAndGlyphs">0.5</text>
<defs><linearGradient id="cbar" x1="0" x2="1" y1="0" y2="0"><stop offset="0" stop-color="#1454a8"/><stop offset="0.12" stop-color="#2e6db8"/><stop offset="0.25" stop-color="#5189c6"/><stop offset="0.35" stop-color="#7fa8d6"/><stop offset="0.45" stop-color="#c4d9ee"/><stop offset="0.5" stop-color="#ffffff"/><stop offset="0.55" stop-color="#f8dede"/><stop offset="0.65" stop-color="#eab0b0"/><stop offset="0.75" stop-color="#dc8686"/><stop offset="0.85" stop-color="#cb5050"/><stop offset="0.93" stop-color="#bf2a2a"/><stop offset="1" stop-color="#b20a0a"/></linearGradient><linearGradient id="redw" x1="537" x2="562" y1="0" y2="0" gradientUnits="userSpaceOnUse"><stop offset="0" stop-color="#b81f2c"/><stop offset="0.25" stop-color="#c0333b"/><stop offset="0.55" stop-color="#e59c9c"/><stop offset="0.85" stop-color="#f7dede"/><stop offset="1" stop-color="#fff"/></linearGradient><linearGradient id="bluew" x1="564.5" x2="588" y1="0" y2="0" gradientUnits="userSpaceOnUse"><stop offset="0" stop-color="#fff"/><stop offset="0.2" stop-color="#dce8f4"/><stop offset="0.5" stop-color="#8fb6dc"/><stop offset="0.8" stop-color="#2e6cb4"/><stop offset="1" stop-color="#2a64ac"/></linearGradient><linearGradient id="fadev" x1="0" x2="0" y1="60" y2="216" gradientUnits="userSpaceOnUse"><stop offset="0" stop-color="#fff" stop-opacity="0.85"/><stop offset="0.45" stop-color="#fff" stop-opacity="0.55"/><stop offset="0.72" stop-color="#fff" stop-opacity="0.35"/><stop offset="0.78" stop-color="#fff" stop-opacity="0.1"/><stop offset="1" stop-color="#fff" stop-opacity="0"/></linearGradient><filter id="bl1" x="-0.1" y="-0.1" width="1.2" height="1.2"><feGaussianBlur stdDeviation="0.8"/></filter></defs>
<defs><clipPath id="cclip"><rect x="480.5" y="36" width="166" height="180"/></clipPath><linearGradient id="rw2" x1="537.8" x2="563.3" y1="0" y2="0" gradientUnits="userSpaceOnUse"><stop offset="0" stop-color="#b21c2a"/><stop offset="0.42" stop-color="#bf3039"/><stop offset="0.6" stop-color="#d36466"/><stop offset="0.8" stop-color="#e8a7a7"/><stop offset="0.93" stop-color="#f2c6c6"/><stop offset="1" stop-color="#f6d6d6"/></linearGradient><linearGradient id="bw2" x1="565" x2="587.3" y1="0" y2="0" gradientUnits="userSpaceOnUse"><stop offset="0" stop-color="#d9e6f4"/><stop offset="0.08" stop-color="#cddff1"/><stop offset="0.3" stop-color="#9dbfe2"/><stop offset="0.5" stop-color="#5a91cc"/><stop offset="0.66" stop-color="#3a78bf"/><stop offset="1" stop-color="#2d6bb6"/></linearGradient><linearGradient id="vmg" x1="0" x2="0" y1="55" y2="216" gradientUnits="userSpaceOnUse"><stop offset="0.000" stop-color="#fff" stop-opacity="0.3"/><stop offset="0.155" stop-color="#fff" stop-opacity="0.38"/><stop offset="0.404" stop-color="#fff" stop-opacity="0.45"/><stop offset="0.652" stop-color="#fff" stop-opacity="0.55"/><stop offset="0.776" stop-color="#fff" stop-opacity="0.62"/><stop offset="0.832" stop-color="#fff" stop-opacity="0.85"/><stop offset="0.870" stop-color="#fff" stop-opacity="1.0"/><stop offset="1.000" stop-color="#fff" stop-opacity="1.0"/></linearGradient><mask id="vmask" maskUnits="userSpaceOnUse" x="480" y="36" width="167" height="181"><rect x="480" y="36" width="167" height="181" fill="url(#vmg)"/></mask><filter id="bl2" x="-0.2" y="-0.2" width="1.4" height="1.4"><feGaussianBlur stdDeviation="1.6"/></filter></defs>
<g clip-path="url(#cclip)">
<rect x="480.5" y="36.4" width="166.0" height="180.0" fill="#fdfdfe"/>
<g filter="url(#bl2)">
<path d="M478,34 L563,34 L563,218 L478,218 Z" fill="#f1f5fb"/>
<path d="M512,34 L548,34 L550,90 L552,150 L548,218 L515,218 L512,160 L506,120 L510,80 Z" fill="#e9eff8"/>
<path d="M482,70 L492,72 L494,95 L483,98 Z" fill="#faeeee"/>
<path d="M478,34 L500,34 L498,80 L492,110 L478,110 Z" fill="#f6f8fc"/>
<path d="M572,66 L648,64 L648,142 L630,148 L615,146 L600,156 L585,158 L578,150 Z" fill="#faf0f0"/>
<path d="M612,158 L648,152 L648,218 L628,218 L625,190 L610,178 Z" fill="#eef3f9"/>
<path d="M586,168 L612,172 L622,192 L622,218 L590,218 Z" fill="#faf2f2"/>
<path d="M503,58 L526,52 L530,68 L522,72 L518,95 L526,100 L512,108 L504,96 Z" fill="#e4ebf5"/>
<path d="M530,52 L547,48 L549,96 L540,102 L532,92 Z" fill="#e4ebf5"/>
<path d="M536,36 L552,36 L552,50 L538,52 Z" fill="#dfe8f4"/>
<ellipse cx="529" cy="84" rx="4" ry="6" fill="#f4f7fb"/>
<ellipse cx="503" cy="136" rx="3" ry="4" fill="#fbfcfe"/>
<ellipse cx="487" cy="142" rx="3" ry="2.5" fill="#fbfcfe"/>
<path d="M480,186 L500,182 L512,196 L505,216 L480,216 Z" fill="#f7f9fc"/>
<path d="M514,150 L530,146 L534,170 L520,176 Z" fill="#e6edf6"/>
<ellipse cx="601" cy="126" rx="3" ry="3" fill="#fdfbfb"/>
<ellipse cx="618" cy="40" rx="3" ry="1.8" fill="#f9eded"/>
</g>
<rect x="563.2" y="36" width="2" height="180" fill="#fff"/>
<g mask="url(#vmask)"><g filter="url(#bl1)">
<path d="M537.8,216 L538.8,200 L540,192 L541.8,186 L544,180 L547.5,165 L549.5,155 L552,140 L554.5,125 L556.5,110 L558.5,92 L560.5,75 L562,62 L563.2,55 L563.3,216 Z" fill="url(#rw2)"/>
<path d="M565.0,55 L566,62 L567.6,75 L569.5,92 L571.5,110 L573.3,125 L575.5,140 L577.7,155 L579.2,165 L582,178 L584.5,188 L586.2,198 L587.3,216 L565,216 Z" fill="url(#bw2)"/>
</g></g>
</g>
<rect x="480.5" y="36.4" width="166.0" height="180.0" fill="none" stroke="#404040" stroke-width="1.1"/>
<path d="M480.5,44.2 h3.6 M480.5,130.4 h3.6 M563.5,216.4 v-3.6" stroke="#404040" stroke-width="1"/>
<rect x="509.6" y="25.3" width="103" height="7.4" fill="url(#cbar)" stroke="#3a3a3a" stroke-width="0.7"/>
<text x="493.59" y="32.68" font-size="10.70" fill="#231f20" stroke="#231f20" stroke-width="0.16" textLength="12.10" lengthAdjust="spacingAndGlyphs">−4</text>
<text x="616.87" y="32.68" font-size="10.70" fill="#231f20" stroke="#231f20" stroke-width="0.16" textLength="6.03" lengthAdjust="spacingAndGlyphs">4</text>
<text x="462.59" y="47.08" font-size="10.68" fill="#231f20" stroke="#231f20" stroke-width="0.16" textLength="12.12" lengthAdjust="spacingAndGlyphs">10</text>
<text x="468.50" y="133.38" font-size="10.69" fill="#231f20" stroke="#231f20" stroke-width="0.16" textLength="5.81" lengthAdjust="spacingAndGlyphs">5</text>
<text x="467.52" y="219.67" font-size="10.82" fill="#231f20" stroke="#231f20" stroke-width="0.16" textLength="7.17" lengthAdjust="spacingAndGlyphs">0</text>
<text x="469.48" y="230.47" font-size="10.82" fill="#231f20" stroke="#231f20" stroke-width="0.16" textLength="21.55" lengthAdjust="spacingAndGlyphs">−0.5</text>
<text x="560.64" y="230.48" font-size="10.11" fill="#231f20" stroke="#231f20" stroke-width="0.16" textLength="6.81" lengthAdjust="spacingAndGlyphs">0</text>
<text x="638.47" y="230.09" font-size="9.55" fill="#231f20" stroke="#231f20" stroke-width="0.16" textLength="16.10" lengthAdjust="spacingAndGlyphs">0.5</text>
<rect x="480.5" y="283.7" width="166.29999999999995" height="197.60000000000002" fill="none" stroke="#404040" stroke-width="1.1"/>
<path d="M480.5,313 h3.6 M480.5,386.2 h3.6 M480.5,459.2 h3.6 M646.8,314.6 h-3.6 M646.8,386.3 h-3.6 M646.8,457.7 h-3.6 M487.4,481.3 v-3.4 M551.3,481.3 v-3.4 M615.1,481.3 v-3.4" stroke="#404040" stroke-width="1"/>
<path d="M488.6,287.4 V371.5 M486.6,287.4 h4 M486.6,371.5 h4 M498.3,310.1 V378.7 M496.3,310.1 h4 M496.3,378.7 h4 M507.9,342.5 V385.9 M505.9,342.5 h4 M505.9,385.9 h4 M517,371.3 V397.5 M515,371.3 h4 M515,397.5 h4 M526.5,370.2 V408.3 M524.5,370.2 h4 M524.5,408.3 h4 M535.8,389.6 V419.3 M533.8,389.6 h4 M533.8,419.3 h4 M545.3,403.4 V425.2 M543.3,403.4 h4 M543.3,425.2 h4 M554.9,415.5 V433.1 M552.9,415.5 h4 M552.9,433.1 h4 M564.2,419.7 V439 M562.2,419.7 h4 M562.2,439 h4 M573.8,436.2 V440.9 M571.8,436.2 h4 M571.8,440.9 h4 M582.9,444.7 V454.9 M580.9,444.7 h4 M580.9,454.9 h4 M592.4,452.5 V458.5 M590.4,452.5 h4 M590.4,458.5 h4 M601.7,457 V460 M599.7,457 h4 M599.7,460 h4 " stroke="#abc5ea" stroke-width="0.8" fill="none"/>
<path d="M491.1,311.3 V336.1 M489.1,311.3 h4 M489.1,336.1 h4 M508.1,326.6 V376.4 M506.1,326.6 h4 M506.1,376.4 h4 M526.8,363.7 V395.4 M524.8,363.7 h4 M524.8,395.4 h4 M545.3,375.2 V419.3 M543.3,375.2 h4 M543.3,419.3 h4 M564.2,381.6 V444.2 M562.2,381.6 h4 M562.2,444.2 h4 M582.9,410.4 V473.4 M580.9,410.4 h4 M580.9,473.4 h4 M601.6,424.2 V477.4 M599.6,424.2 h4 M599.6,477.4 h4 M620.3,427.8 V475.6 M618.3,427.8 h4 M618.3,475.6 h4 M638.8,430.3 V469.3 M636.8,430.3 h4 M636.8,469.3 h4 " stroke="#f2a5a7" stroke-width="0.8" fill="none"/>
<path d="M488.6,326.40000000000003 L491.5,329.3 L488.6,332.2 L485.70000000000005,329.3 Z M498.3,341.3 L501.2,344.2 L498.3,347.09999999999997 L495.40000000000003,344.2 Z M507.9,361.40000000000003 L510.79999999999995,364.3 L507.9,367.2 L505.0,364.3 Z M517,381.40000000000003 L519.9,384.3 L517,387.2 L514.1,384.3 Z M526.5,386.3 L529.4,389.2 L526.5,392.09999999999997 L523.6,389.2 Z M535.8,401.6 L538.6999999999999,404.5 L535.8,407.4 L532.9,404.5 Z M545.3,411.5 L548.1999999999999,414.4 L545.3,417.29999999999995 L542.4,414.4 Z M554.9,421.5 L557.8,424.4 L554.9,427.29999999999995 L552.0,424.4 Z M564.2,426.3 L567.1,429.2 L564.2,432.09999999999997 L561.3000000000001,429.2 Z M573.8,435.5 L576.6999999999999,438.4 L573.8,441.29999999999995 L570.9,438.4 Z M582.9,446.5 L585.8,449.4 L582.9,452.29999999999995 L580.0,449.4 Z M592.4,452.6 L595.3,455.5 L592.4,458.4 L589.5,455.5 Z M601.7,455.6 L604.6,458.5 L601.7,461.4 L598.8000000000001,458.5 Z M611.8,456.6 L614.6999999999999,459.5 L611.8,462.4 L608.9,459.5 Z M621.9,456.6 L624.8,459.5 L621.9,462.4 L619.0,459.5 Z " fill="#4a7ec6"/>
<path d="M491.1,320.5 L494.0,323.4 L491.1,326.29999999999995 L488.20000000000005,323.4 Z M508.1,348.70000000000005 L511.0,351.6 L508.1,354.5 L505.20000000000005,351.6 Z M526.8,376.70000000000005 L529.6999999999999,379.6 L526.8,382.5 L523.9,379.6 Z M545.3,394.6 L548.1999999999999,397.5 L545.3,400.4 L542.4,397.5 Z M564.2,410.1 L567.1,413 L564.2,415.9 L561.3000000000001,413 Z M582.9,438.6 L585.8,441.5 L582.9,444.4 L580.0,441.5 Z M601.6,448.1 L604.5,451 L601.6,453.9 L598.7,451 Z M620.3,448.90000000000003 L623.1999999999999,451.8 L620.3,454.7 L617.4,451.8 Z M638.8,447.40000000000003 L641.6999999999999,450.3 L638.8,453.2 L635.9,450.3 Z " fill="#d4272b"/>
<path d="M527.8,426.7 H493" stroke="#4a7ec6" stroke-width="1.2"/><path d="M494.8,424.5 L490.2,426.7 L494.8,428.9 Z" fill="#4a7ec6"/>
<path d="M586.5,391.3 H620" stroke="#c0232a" stroke-width="1.2"/><path d="M618.6,389.1 L623.2,391.3 L618.6,393.5 Z" fill="#c0232a"/>
<text x="458.88" y="316.37" font-size="11.10" fill="#231f20" stroke="#231f20" stroke-width="0.16" textLength="15.88" lengthAdjust="spacingAndGlyphs">0.2</text>
<text x="460.84" y="389.17" font-size="11.10" fill="#231f20" stroke="#231f20" stroke-width="0.16" textLength="13.83" lengthAdjust="spacingAndGlyphs">0.1</text>
<text x="467.50" y="462.48" font-size="10.11" fill="#231f20" stroke="#231f20" stroke-width="0.16" textLength="7.40" lengthAdjust="spacingAndGlyphs">0</text>
<text x="652.23" y="318.58" font-size="10.40" fill="#231f20" stroke="#231f20" stroke-width="0.16" textLength="13.94" lengthAdjust="spacingAndGlyphs">90</text>
<text x="652.54" y="389.18" font-size="10.69" fill="#231f20" stroke="#231f20" stroke-width="0.16" textLength="13.65" lengthAdjust="spacingAndGlyphs">45</text>
<text x="652.62" y="460.88" font-size="10.54" fill="#231f20" stroke="#231f20" stroke-width="0.16" textLength="7.05" lengthAdjust="spacingAndGlyphs">0</text>
<text x="483.52" y="495.08" font-size="9.83" fill="#231f20" stroke="#231f20" stroke-width="0.16" textLength="7.05" lengthAdjust="spacingAndGlyphs">0</text>
<text x="547.79" y="495.18" font-size="10.40" fill="#231f20" stroke="#231f20" stroke-width="0.16" textLength="5.93" lengthAdjust="spacingAndGlyphs">5</text>
<text x="608.84" y="495.18" font-size="10.25" fill="#231f20" stroke="#231f20" stroke-width="0.16" textLength="11.45" lengthAdjust="spacingAndGlyphs">10</text>
<text x="0.41" y="12.95" font-size="17.80" font-weight="bold" fill="#000" stroke="#000" stroke-width="0.3" textLength="9.39" lengthAdjust="spacingAndGlyphs">a</text>
<text x="220.63" y="12.85" font-size="17.80" font-weight="bold" fill="#000" stroke="#000" stroke-width="0.3" textLength="12.73" lengthAdjust="spacingAndGlyphs">b</text>
<text x="436.13" y="13.20" font-size="17.80" font-weight="bold" fill="#000" stroke="#000" stroke-width="0.3" textLength="10.95" lengthAdjust="spacingAndGlyphs">c</text>
<text x="436.02" y="284.00" font-size="17.80" font-weight="bold" fill="#000" stroke="#000" stroke-width="0.3" textLength="13.09" lengthAdjust="spacingAndGlyphs">d</text>
<text x="64.62" y="34.95" font-size="11.60" font-style="italic" fill="#231f20" stroke="#231f20" stroke-width="0.3" textLength="6.68" lengthAdjust="spacingAndGlyphs">D</text>
<text x="71.40" y="34.95" font-size="11.60" fill="#231f20" stroke="#231f20" stroke-width="0.3" textLength="2.10" lengthAdjust="spacingAndGlyphs">/</text>
<text x="75.00" y="34.95" font-size="11.60" font-style="italic" fill="#231f20" stroke="#231f20" stroke-width="0.3" textLength="5.36" lengthAdjust="spacingAndGlyphs">ε</text>
<text x="81.46" y="38.00" font-size="7.20" fill="#231f20" stroke="#231f20" stroke-width="0.3" textLength="4.89" lengthAdjust="spacingAndGlyphs">0</text>
<text x="88.64" y="34.95" font-size="11.60" fill="#231f20" stroke="#231f20" stroke-width="0.3" textLength="5.53" lengthAdjust="spacingAndGlyphs">=</text>
<text x="96.58" y="34.95" font-size="11.60" fill="#231f20" stroke="#231f20" stroke-width="0.3" textLength="26.79" lengthAdjust="spacingAndGlyphs">−0.26</text>
<text x="126.15" y="34.95" font-size="11.60" fill="#231f20" stroke="#231f20" stroke-width="0.3" textLength="6.99" lengthAdjust="spacingAndGlyphs">V</text>
<text x="136.54" y="34.95" font-size="11.60" fill="#231f20" stroke="#231f20" stroke-width="0.3" textLength="15.81" lengthAdjust="spacingAndGlyphs">nm</text>
<text x="152.86" y="28.70" font-size="7.00" fill="#231f20" stroke="#231f20" stroke-width="0.3" textLength="5.47" lengthAdjust="spacingAndGlyphs">−1</text>
<text transform="rotate(-90)" x="-114.04" y="129.70" font-size="13.00" font-style="italic" fill="#231f20" stroke="#231f20" stroke-width="0.3" textLength="7.88" lengthAdjust="spacingAndGlyphs">n</text>
<text transform="rotate(-90)" x="-106.31" y="133.00" font-size="8.60" fill="#231f20" stroke="#231f20" stroke-width="0.3" textLength="4.03" lengthAdjust="spacingAndGlyphs">e</text>
<text transform="rotate(-90)" x="-99.46" y="129.70" font-size="13.00" fill="#231f20" stroke="#231f20" stroke-width="0.3" textLength="48.74" lengthAdjust="spacingAndGlyphs">increase</text>
<text x="87.69" y="514.50" font-size="11.80" font-style="italic" fill="#231f20" stroke="#231f20" stroke-width="0.3" textLength="4.96" lengthAdjust="spacingAndGlyphs">μ</text>
<text x="94.40" y="518.00" font-size="8.60" fill="#231f20" stroke="#231f20" stroke-width="0.3" textLength="5.70" lengthAdjust="spacingAndGlyphs">0</text>
<text x="103.71" y="514.50" font-size="11.80" font-style="italic" fill="#231f20" stroke="#231f20" stroke-width="0.3" textLength="6.88" lengthAdjust="spacingAndGlyphs">H</text>
<path d="M114.30,514.60 V518.40 M112.00,518.40 H116.60" stroke="#231f20" stroke-width="1.0" fill="none"/>
<text x="120.50" y="514.50" font-size="11.80" fill="#231f20" stroke="#231f20" stroke-width="0.3" textLength="14.51" lengthAdjust="spacingAndGlyphs">(T)</text>
<text x="300.99" y="514.10" font-size="11.80" font-style="italic" fill="#231f20" stroke="#231f20" stroke-width="0.3" textLength="4.96" lengthAdjust="spacingAndGlyphs">μ</text>
<text x="307.70" y="517.60" font-size="8.60" fill="#231f20" stroke="#231f20" stroke-width="0.3" textLength="5.70" lengthAdjust="spacingAndGlyphs">0</text>
<text x="317.01" y="514.10" font-size="11.80" font-style="italic" fill="#231f20" stroke="#231f20" stroke-width="0.3" textLength="6.88" lengthAdjust="spacingAndGlyphs">H</text>
<path d="M327.60,514.20 V518.00 M325.30,518.00 H329.90" stroke="#231f20" stroke-width="1.0" fill="none"/>
<text x="333.80" y="514.10" font-size="11.80" fill="#231f20" stroke="#231f20" stroke-width="0.3" textLength="14.51" lengthAdjust="spacingAndGlyphs">(T)</text>
<text x="539.49" y="249.10" font-size="11.80" font-style="italic" fill="#231f20" stroke="#231f20" stroke-width="0.3" textLength="4.96" lengthAdjust="spacingAndGlyphs">μ</text>
<text x="546.20" y="252.60" font-size="8.60" fill="#231f20" stroke="#231f20" stroke-width="0.3" textLength="5.70" lengthAdjust="spacingAndGlyphs">0</text>
<text x="555.51" y="249.10" font-size="11.80" font-style="italic" fill="#231f20" stroke="#231f20" stroke-width="0.3" textLength="6.88" lengthAdjust="spacingAndGlyphs">H</text>
<path d="M566.10,249.20 V253.00 M563.80,253.00 H568.40" stroke="#231f20" stroke-width="1.0" fill="none"/>
<text x="572.30" y="249.10" font-size="11.80" fill="#231f20" stroke="#231f20" stroke-width="0.3" textLength="14.51" lengthAdjust="spacingAndGlyphs">(T)</text>
<text transform="rotate(-90)" x="-270.81" y="10.50" font-size="12.00" font-style="italic" fill="#231f20" stroke="#231f20" stroke-width="0.3" textLength="6.90" lengthAdjust="spacingAndGlyphs">δ</text>
<text transform="rotate(-90)" x="-263.19" y="10.50" font-size="12.00" fill="#231f20" stroke="#231f20" stroke-width="0.3" textLength="9.06" lengthAdjust="spacingAndGlyphs">G</text>
<text transform="rotate(-90)" x="-251.31" y="10.50" font-size="12.00" fill="#231f20" stroke="#231f20" stroke-width="0.3" textLength="17.82" lengthAdjust="spacingAndGlyphs">(%)</text>
<text transform="rotate(-90)" x="-290.19" y="232.00" font-size="12.00" font-style="italic" fill="#231f20" stroke="#231f20" stroke-width="0.3" textLength="6.69" lengthAdjust="spacingAndGlyphs">δ</text>
<text transform="rotate(-90)" x="-282.89" y="232.00" font-size="12.00" fill="#231f20" stroke="#231f20" stroke-width="0.3" textLength="9.17" lengthAdjust="spacingAndGlyphs">G</text>
<path d="M235.9,270.9 H230.9 M232.7,269.3 L230.7,270.9 L232.7,272.5" stroke="#231f20" stroke-width="0.8" fill="none"/>
<text transform="rotate(-90)" x="-267.45" y="232.00" font-size="12.00" fill="#231f20" stroke="#231f20" stroke-width="0.3" textLength="6.49" lengthAdjust="spacingAndGlyphs">−</text>
<text transform="rotate(-90)" x="-260.14" y="232.00" font-size="12.00" font-style="italic" fill="#231f20" stroke="#231f20" stroke-width="0.3" textLength="5.75" lengthAdjust="spacingAndGlyphs">δ</text>
<text transform="rotate(-90)" x="-253.84" y="232.00" font-size="12.00" fill="#231f20" stroke="#231f20" stroke-width="0.3" textLength="9.89" lengthAdjust="spacingAndGlyphs">G</text>
<path d="M230.5,242.4 H235.5 M233.7,240.8 L235.7,242.4 L233.7,244.0" stroke="#231f20" stroke-width="0.8" fill="none"/>
<text transform="rotate(-90)" x="-235.18" y="232.00" font-size="12.00" fill="#231f20" stroke="#231f20" stroke-width="0.3" textLength="17.06" lengthAdjust="spacingAndGlyphs">(%)</text>
<text x="523.91" y="16.90" font-size="12.00" font-style="italic" fill="#231f20" stroke="#231f20" stroke-width="0.3" textLength="6.69" lengthAdjust="spacingAndGlyphs">δ</text>
<text x="531.09" y="16.90" font-size="12.00" fill="#231f20" stroke="#231f20" stroke-width="0.3" textLength="9.41" lengthAdjust="spacingAndGlyphs">G</text>
<path d="M541.9,19.9 V15.4 M540.3,17.2 L541.9,15.2 L543.5,17.2" stroke="#231f20" stroke-width="0.8" fill="none"/>
<text x="545.89" y="16.90" font-size="12.00" fill="#231f20" stroke="#231f20" stroke-width="0.3" textLength="6.01" lengthAdjust="spacingAndGlyphs">−</text>
<text x="552.97" y="16.90" font-size="12.00" font-style="italic" fill="#231f20" stroke="#231f20" stroke-width="0.3" textLength="5.54" lengthAdjust="spacingAndGlyphs">δ</text>
<text x="558.92" y="16.90" font-size="12.00" fill="#231f20" stroke="#231f20" stroke-width="0.3" textLength="10.48" lengthAdjust="spacingAndGlyphs">G</text>
<path d="M571.1,15.2 V19.8 M569.5,18.0 L571.1,20.0 L572.7,18.0" stroke="#231f20" stroke-width="0.8" fill="none"/>
<text x="577.80" y="16.90" font-size="12.00" fill="#231f20" stroke="#231f20" stroke-width="0.3" textLength="17.60" lengthAdjust="spacingAndGlyphs">(%)</text>
<text x="524.14" y="513.60" font-size="12.00" font-style="italic" fill="#231f20" stroke="#231f20" stroke-width="0.3" textLength="5.40" lengthAdjust="spacingAndGlyphs">n</text>
<text x="530.59" y="518.00" font-size="8.20" fill="#231f20" stroke="#231f20" stroke-width="0.3" textLength="5.33" lengthAdjust="spacingAndGlyphs">e</text>
<text x="537.71" y="513.60" font-size="12.40" fill="#231f20" stroke="#231f20" stroke-width="0.3" textLength="22.73" lengthAdjust="spacingAndGlyphs">(×10</text>
<text x="562.04" y="508.40" font-size="8.00" fill="#231f20" stroke="#231f20" stroke-width="0.3" textLength="6.77" lengthAdjust="spacingAndGlyphs">12</text>
<text x="572.94" y="513.60" font-size="12.00" fill="#231f20" stroke="#231f20" stroke-width="0.3" textLength="17.53" lengthAdjust="spacingAndGlyphs">cm</text>
<text x="591.36" y="508.40" font-size="8.00" fill="#231f20" stroke="#231f20" stroke-width="0.3" textLength="7.78" lengthAdjust="spacingAndGlyphs">−2</text>
<text x="600.74" y="513.60" font-size="12.00" fill="#231f20" stroke="#231f20" stroke-width="0.3" textLength="3.39" lengthAdjust="spacingAndGlyphs">)</text>
<text transform="rotate(-90)" x="-166.30" y="453.30" font-size="12.20" font-style="italic" fill="#231f20" stroke="#231f20" stroke-width="0.3" textLength="6.87" lengthAdjust="spacingAndGlyphs">n</text>
<text transform="rotate(-90)" x="-158.76" y="456.30" font-size="8.20" fill="#231f20" stroke="#231f20" stroke-width="0.3" textLength="3.44" lengthAdjust="spacingAndGlyphs">e</text>
<text transform="rotate(-90)" x="-151.68" y="453.30" font-size="13.00" fill="#231f20" stroke="#231f20" stroke-width="0.3" textLength="22.31" lengthAdjust="spacingAndGlyphs">(×10</text>
<text transform="rotate(-90)" x="-128.60" y="446.40" font-size="8.00" fill="#231f20" stroke="#231f20" stroke-width="0.3" textLength="7.33" lengthAdjust="spacingAndGlyphs">12</text>
<text transform="rotate(-90)" x="-117.00" y="453.30" font-size="12.20" fill="#231f20" stroke="#231f20" stroke-width="0.3" textLength="15.78" lengthAdjust="spacingAndGlyphs">cm</text>
<text transform="rotate(-90)" x="-100.49" y="448.10" font-size="8.00" fill="#231f20" stroke="#231f20" stroke-width="0.3" textLength="9.09" lengthAdjust="spacingAndGlyphs">−2</text>
<text transform="rotate(-90)" x="-89.96" y="453.30" font-size="12.20" fill="#231f20" stroke="#231f20" stroke-width="0.3" textLength="3.64" lengthAdjust="spacingAndGlyphs">)</text>
<text transform="rotate(-90)" x="-431.45" y="449.20" font-size="12.00" fill="#5b8fd2" stroke="#5b8fd2" stroke-width="0.3" textLength="97.24" lengthAdjust="spacingAndGlyphs">Coercive field (T)</text>
<text transform="rotate(90)" x="361.78" y="-675.00" font-size="12.00" font-style="italic" fill="#e05555" stroke="#e05555" stroke-width="0.3" textLength="6.94" lengthAdjust="spacingAndGlyphs">K</text>
<text transform="rotate(90)" x="372.95" y="-675.00" font-size="12.00" fill="#e05555" stroke="#e05555" stroke-width="0.3" textLength="29.69" lengthAdjust="spacingAndGlyphs">(μeV)</text>
<text transform="translate(48.40,31.80) rotate(61.0)" x="-3.01" y="3.54" font-size="10.30" fill="#231f20" stroke="#231f20" stroke-width="0.16" textLength="5.73" lengthAdjust="spacingAndGlyphs">1</text>
<text transform="translate(51.59,38.52) rotate(61.0)" x="-3.01" y="3.43" font-size="10.30" fill="#231f20" stroke="#231f20" stroke-width="0.16" textLength="6.02" lengthAdjust="spacingAndGlyphs">×</text>
<text transform="translate(57.53,47.84) rotate(61.0)" x="-5.92" y="3.55" font-size="10.30" fill="#231f20" stroke="#231f20" stroke-width="0.16" textLength="11.46" lengthAdjust="spacingAndGlyphs">10</text>
<text transform="translate(66.24,54.29) rotate(61.0)" x="-3.61" y="2.17" font-size="6.30" fill="#231f20" stroke="#231f20" stroke-width="0.16" textLength="7.01" lengthAdjust="spacingAndGlyphs">13</text>
<text transform="translate(66.84,68.49) rotate(61.0)" x="-6.74" y="2.72" font-size="10.30" fill="#231f20" stroke="#231f20" stroke-width="0.16" textLength="13.73" lengthAdjust="spacingAndGlyphs">cm</text>
<text transform="translate(78.34,77.19) rotate(61.0)" x="-3.59" y="2.20" font-size="6.30" fill="#231f20" stroke="#231f20" stroke-width="0.16" textLength="7.18" lengthAdjust="spacingAndGlyphs">−2</text>
<text transform="translate(49.10,89.00) rotate(61.0)" x="-7.14" y="3.55" font-size="10.30" fill="#231f20" stroke="#231f20" stroke-width="0.16" textLength="14.32" lengthAdjust="spacingAndGlyphs">8.9</text>
<text transform="translate(55.99,100.92) rotate(61.0)" x="-3.01" y="3.43" font-size="10.30" fill="#231f20" stroke="#231f20" stroke-width="0.16" textLength="6.02" lengthAdjust="spacingAndGlyphs">×</text>
<text transform="translate(60.63,109.74) rotate(61.0)" x="-5.92" y="3.55" font-size="10.30" fill="#231f20" stroke="#231f20" stroke-width="0.16" textLength="11.46" lengthAdjust="spacingAndGlyphs">10</text>
<text transform="translate(69.24,115.79) rotate(61.0)" x="-3.59" y="2.20" font-size="6.30" fill="#231f20" stroke="#231f20" stroke-width="0.16" textLength="7.01" lengthAdjust="spacingAndGlyphs">12</text>
<text transform="translate(48.00,143.20) rotate(61.0)" x="-7.21" y="3.49" font-size="10.30" fill="#231f20" stroke="#231f20" stroke-width="0.16" textLength="14.32" lengthAdjust="spacingAndGlyphs">7.5</text>
<text transform="translate(53.89,155.52) rotate(61.0)" x="-3.01" y="3.43" font-size="10.30" fill="#231f20" stroke="#231f20" stroke-width="0.16" textLength="6.02" lengthAdjust="spacingAndGlyphs">×</text>
<text transform="translate(59.63,164.14) rotate(61.0)" x="-5.92" y="3.55" font-size="10.30" fill="#231f20" stroke="#231f20" stroke-width="0.16" textLength="11.46" lengthAdjust="spacingAndGlyphs">10</text>
<text transform="translate(68.74,169.59) rotate(61.0)" x="-3.59" y="2.20" font-size="6.30" fill="#231f20" stroke="#231f20" stroke-width="0.16" textLength="7.01" lengthAdjust="spacingAndGlyphs">12</text>
<text transform="translate(48.40,198.60) rotate(59.0)" x="-7.22" y="3.55" font-size="10.30" fill="#231f20" stroke="#231f20" stroke-width="0.16" textLength="14.32" lengthAdjust="spacingAndGlyphs">6.0</text>
<text transform="translate(56.11,210.81) rotate(59.0)" x="-3.01" y="3.43" font-size="10.30" fill="#231f20" stroke="#231f20" stroke-width="0.16" textLength="6.02" lengthAdjust="spacingAndGlyphs">×</text>
<text transform="translate(60.97,219.41) rotate(59.0)" x="-5.92" y="3.55" font-size="10.30" fill="#231f20" stroke="#231f20" stroke-width="0.16" textLength="11.46" lengthAdjust="spacingAndGlyphs">10</text>
<text transform="translate(69.26,224.87) rotate(59.0)" x="-3.59" y="2.20" font-size="6.30" fill="#231f20" stroke="#231f20" stroke-width="0.16" textLength="7.01" lengthAdjust="spacingAndGlyphs">12</text>
<text transform="translate(48.20,253.90) rotate(56.0)" x="-7.06" y="3.49" font-size="10.30" fill="#231f20" stroke="#231f20" stroke-width="0.16" textLength="14.32" lengthAdjust="spacingAndGlyphs">4.5</text>
<text transform="translate(56.14,265.60) rotate(56.0)" x="-3.01" y="3.43" font-size="10.30" fill="#231f20" stroke="#231f20" stroke-width="0.16" textLength="6.02" lengthAdjust="spacingAndGlyphs">×</text>
<text transform="translate(61.53,273.78) rotate(56.0)" x="-5.92" y="3.55" font-size="10.30" fill="#231f20" stroke="#231f20" stroke-width="0.16" textLength="11.46" lengthAdjust="spacingAndGlyphs">10</text>
<text transform="translate(70.10,279.25) rotate(56.0)" x="-3.59" y="2.20" font-size="6.30" fill="#231f20" stroke="#231f20" stroke-width="0.16" textLength="7.01" lengthAdjust="spacingAndGlyphs">12</text>
<text transform="translate(47.10,313.50) rotate(49.0)" x="-7.10" y="3.55" font-size="10.30" fill="#231f20" stroke="#231f20" stroke-width="0.16" textLength="14.32" lengthAdjust="spacingAndGlyphs">3.1</text>
<text transform="translate(54.89,322.55) rotate(49.0)" x="-3.01" y="3.43" font-size="10.30" fill="#231f20" stroke="#231f20" stroke-width="0.16" textLength="6.02" lengthAdjust="spacingAndGlyphs">×</text>
<text transform="translate(61.35,329.98) rotate(49.0)" x="-5.92" y="3.55" font-size="10.30" fill="#231f20" stroke="#231f20" stroke-width="0.16" textLength="11.46" lengthAdjust="spacingAndGlyphs">10</text>
<text transform="translate(71.59,334.98) rotate(49.0)" x="-3.59" y="2.20" font-size="6.30" fill="#231f20" stroke="#231f20" stroke-width="0.16" textLength="7.01" lengthAdjust="spacingAndGlyphs">12</text>
<text transform="translate(45.70,369.60) rotate(51.0)" x="-7.33" y="3.55" font-size="10.30" fill="#231f20" stroke="#231f20" stroke-width="0.16" textLength="14.32" lengthAdjust="spacingAndGlyphs">1.6</text>
<text transform="translate(53.58,379.87) rotate(51.0)" x="-3.01" y="3.43" font-size="10.30" fill="#231f20" stroke="#231f20" stroke-width="0.16" textLength="6.02" lengthAdjust="spacingAndGlyphs">×</text>
<text transform="translate(60.32,388.01) rotate(51.0)" x="-5.92" y="3.55" font-size="10.30" fill="#231f20" stroke="#231f20" stroke-width="0.16" textLength="11.46" lengthAdjust="spacingAndGlyphs">10</text>
<text transform="translate(70.27,392.30) rotate(51.0)" x="-3.59" y="2.20" font-size="6.30" fill="#231f20" stroke="#231f20" stroke-width="0.16" textLength="7.01" lengthAdjust="spacingAndGlyphs">12</text>
<text transform="translate(46.70,427.90) rotate(47.0)" x="-7.33" y="3.55" font-size="10.30" fill="#231f20" stroke="#231f20" stroke-width="0.16" textLength="14.32" lengthAdjust="spacingAndGlyphs">1.3</text>
<text transform="translate(54.91,437.64) rotate(47.0)" x="-3.01" y="3.43" font-size="10.30" fill="#231f20" stroke="#231f20" stroke-width="0.16" textLength="6.02" lengthAdjust="spacingAndGlyphs">×</text>
<text transform="translate(61.89,444.55) rotate(47.0)" x="-5.92" y="3.55" font-size="10.30" fill="#231f20" stroke="#231f20" stroke-width="0.16" textLength="11.46" lengthAdjust="spacingAndGlyphs">10</text>
<text transform="translate(72.01,447.36) rotate(47.0)" x="-3.59" y="2.17" font-size="6.30" fill="#231f20" stroke="#231f20" stroke-width="0.16" textLength="7.01" lengthAdjust="spacingAndGlyphs">11</text>
<text x="336.4" y="45.6" font-size="12.3" fill="#231f20" stroke="#231f20" stroke-width="0.16">1 × 10<tspan font-size="7.4" dx="0.6" dy="-5.5">13</tspan></text>
<text x="336.4" y="100.4" font-size="12.3" fill="#231f20" stroke="#231f20" stroke-width="0.16">8.9 × 10<tspan font-size="7.4" dx="0.6" dy="-5.5">12</tspan></text>
<text x="336.4" y="154.5" font-size="12.3" fill="#231f20" stroke="#231f20" stroke-width="0.16">7.5 × 10<tspan font-size="7.4" dx="0.6" dy="-5.5">12</tspan></text>
<text x="336.4" y="208.5" font-size="12.3" fill="#231f20" stroke="#231f20" stroke-width="0.16">6.0 × 10<tspan font-size="7.4" dx="0.6" dy="-5.5">12</tspan></text>
<text x="336.4" y="262.4" font-size="12.3" fill="#231f20" stroke="#231f20" stroke-width="0.16">4.5 × 10<tspan font-size="7.4" dx="0.6" dy="-5.5">12</tspan></text>
<text x="336.4" y="316.9" font-size="12.3" fill="#231f20" stroke="#231f20" stroke-width="0.16">3.1 × 10<tspan font-size="7.4" dx="0.6" dy="-5.5">12</tspan></text>
<text x="336.4" y="371.5" font-size="12.3" fill="#231f20" stroke="#231f20" stroke-width="0.16">1.6 × 10<tspan font-size="7.4" dx="0.6" dy="-5.5">12</tspan></text>
<text x="336.4" y="425.8" font-size="12.3" fill="#231f20" stroke="#231f20" stroke-width="0.16">1.3 × 10<tspan font-size="7.4" dx="0.6" dy="-5.5">11</tspan></text>
</svg></body></html>
